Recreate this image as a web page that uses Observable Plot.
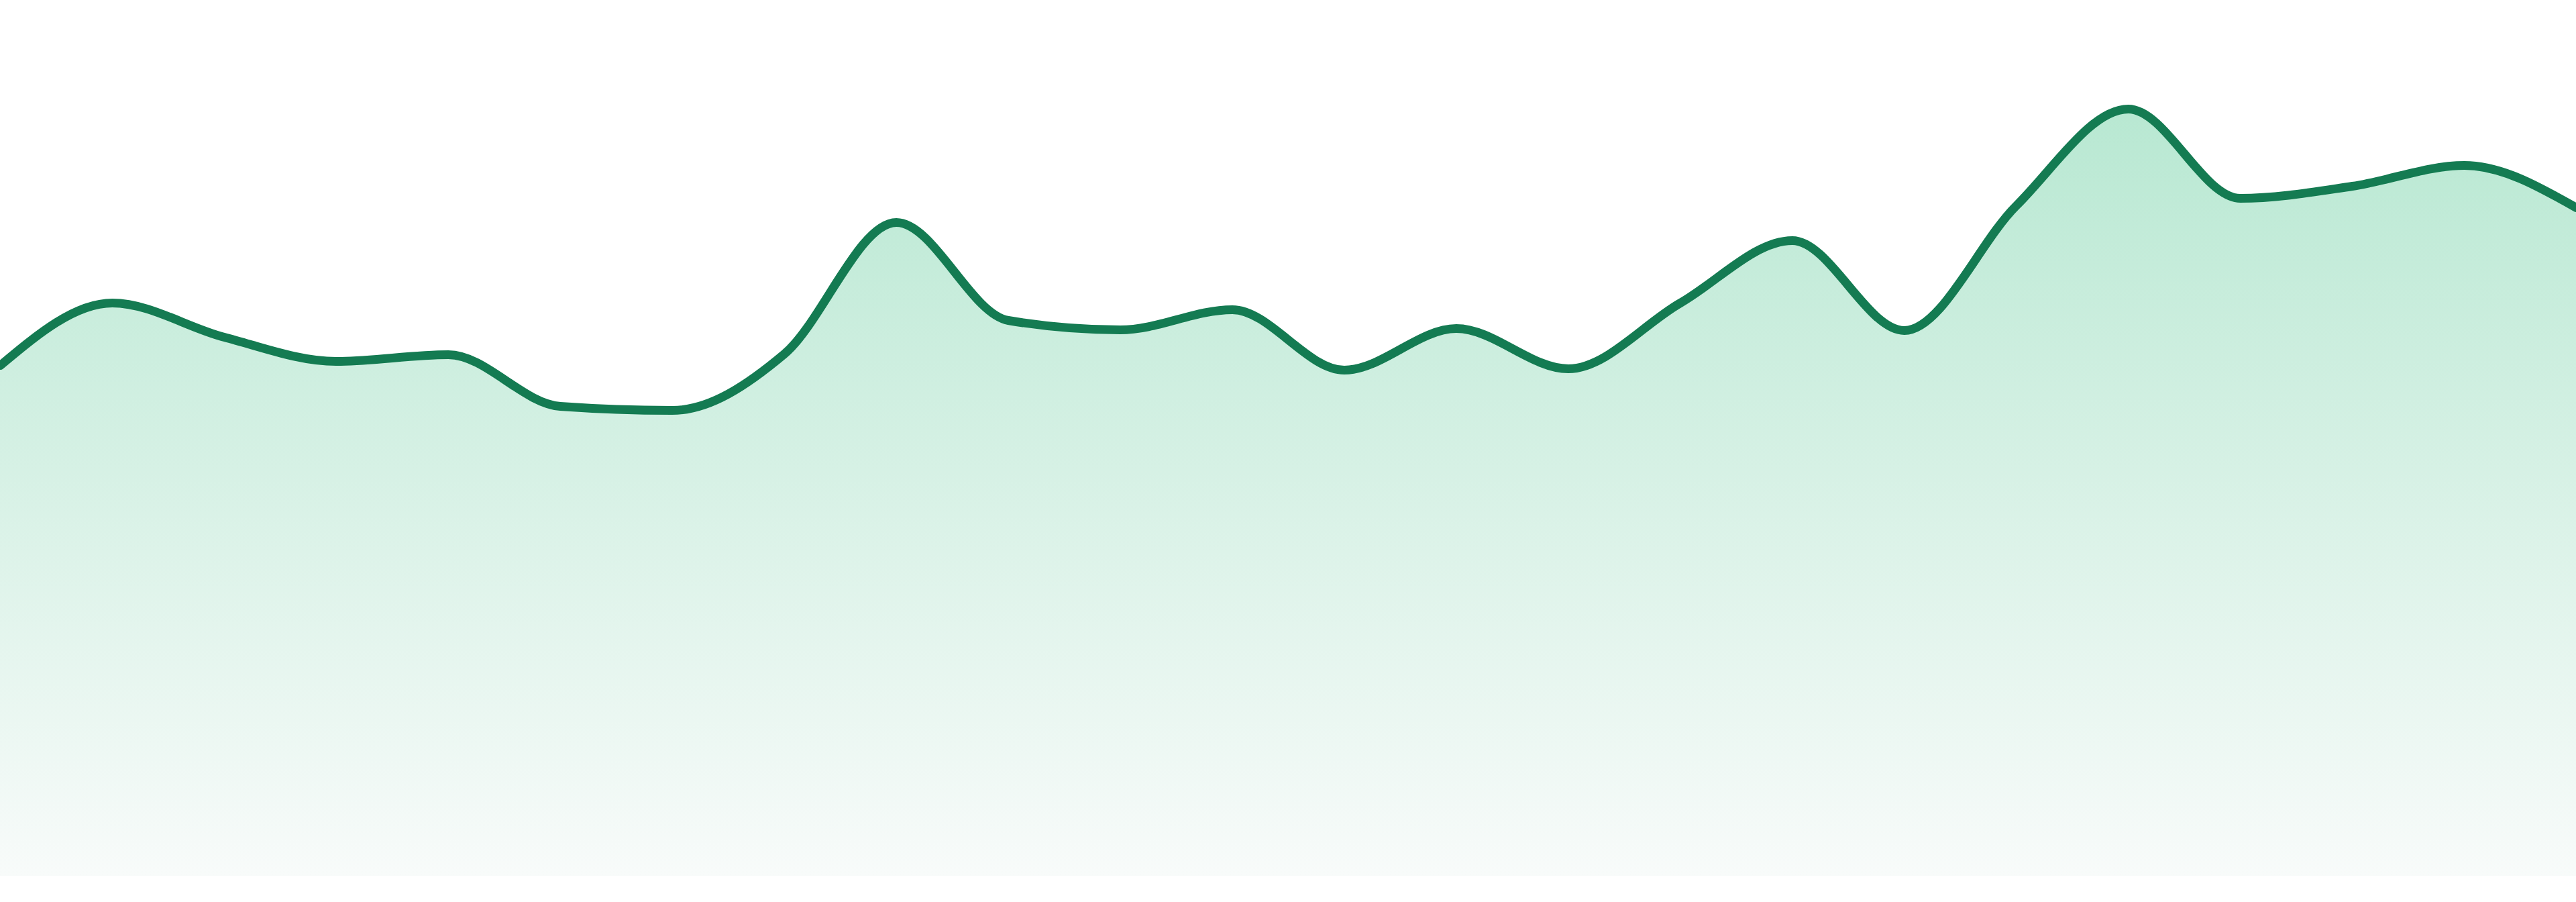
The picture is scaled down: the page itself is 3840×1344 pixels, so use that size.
<!DOCTYPE html>
<html>
<head>
<meta charset="utf-8">
<script src="https://cdn.jsdelivr.net/npm/d3@7"></script>
<script src="https://cdn.jsdelivr.net/npm/@observablehq/plot@0.6"></script>
<style>
  html, body { margin: 0; padding: 0; background: #ffffff; overflow: hidden; }
  #chart svg { display: block; }
</style>
</head>
<body>
<div id="chart"></div>
<script>
// Data (index positions and values)
const steps = [0, 1, 2, 3, 4, 5, 6, 7, 8, 9, 10, 11, 12, 13, 14, 15, 16, 17, 18, 19, 20, 21, 22, 23];
const values = [76.1, 85.4, 80.3, 76.7, 77.7, 70.0, 69.4, 77.8, 97.4, 82.8, 81.4, 84.4, 75.4, 81.6, 75.6, 85.4, 94.7, 81.3, 99.9, 114.3, 101.0, 102.8, 105.9, 99.6];
const yDomain = [0, 120];

const data = steps.map((s, i) => ({step: s, value: values[i]}));

const gradientDefs = () => {
  const svgNS = "http://www.w3.org/2000/svg";
  const defs = document.createElementNS(svgNS, "defs");
  const lg = document.createElementNS(svgNS, "linearGradient");
  lg.setAttribute("id", "areaFill");
  lg.setAttribute("x1", "0"); lg.setAttribute("y1", "0");
  lg.setAttribute("x2", "0"); lg.setAttribute("y2", "1");
  const stops = [["0%", "#b8e8d2"], ["100%", "#f8fbfa"]];
  for (const [o, c] of stops) {
    const st = document.createElementNS(svgNS, "stop");
    st.setAttribute("offset", o);
    st.setAttribute("stop-color", c);
    lg.appendChild(st);
  }
  defs.appendChild(lg);
  return defs;
};

const chart = Plot.plot({
  width: 3840,
  height: 1344,
  marginTop: 105,
  marginBottom: 39,
  marginLeft: 0,
  marginRight: 0,
  x: {domain: [steps[0], steps[steps.length - 1]], axis: null},
  y: {domain: yDomain, axis: null},
  marks: [
    gradientDefs,
    Plot.areaY(data, {x: "step", y: "value", curve: "monotone-x", fill: "url(#areaFill)"}),
    Plot.lineY(data, {x: "step", y: "value", curve: "monotone-x", stroke: "#147b52", strokeWidth: 13})
  ]
});
document.getElementById("chart").appendChild(chart);
</script>
</body>
</html>
